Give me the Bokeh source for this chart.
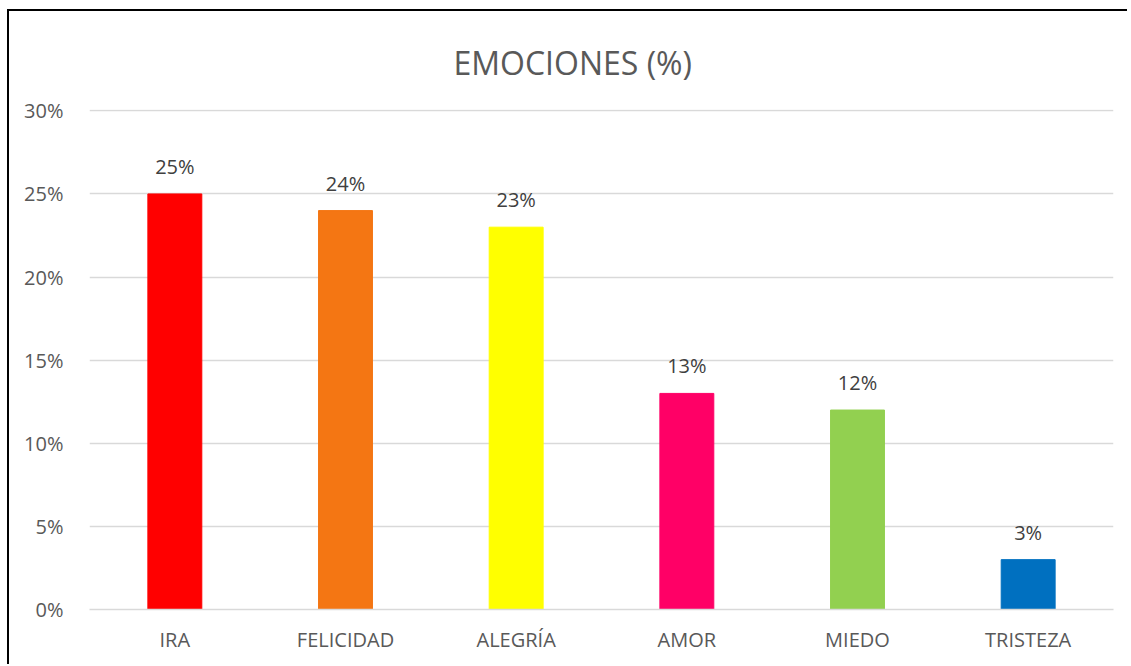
from bokeh.plotting import figure
from bokeh.models import ColumnDataSource, FixedTicker, NumeralTickFormatter, LabelSet, Range1d
from bokeh.core.properties import value
from bokeh.embed import file_html
from bokeh.resources import INLINE

categories = ["IRA", "FELICIDAD", "ALEGRÍA", "AMOR", "MIEDO", "TRISTEZA"]
values = [0.25, 0.24, 0.23, 0.13, 0.12, 0.03]
colors = ["#FF0000", "#F47613", "#FFFF00", "#FF0066", "#92D050", "#0070C0"]
y_ticks = [0, 0.05, 0.10, 0.15, 0.20, 0.25, 0.30]
title_text = "EMOCIONES (%)"

labels = [f"{round(v * 100)}%" for v in values]
src = ColumnDataSource(dict(cat=categories, val=values, col=colors, lab=labels))

FONT = "Open Sans"
GRAY = "#595959"

p = figure(x_range=categories, y_range=Range1d(0, 0.3008),
           width=1120, height=655, output_backend="svg", toolbar_location=None,
           min_border_left=80, min_border_right=16, min_border_top=98, min_border_bottom=57)
p.styles = {"box-shadow": "-2px -2px 0 0 black",
            "margin-left": "9px", "margin-top": "11px"}

p.vbar(x="cat", top="val", width=0.316, color="col", source=src)

p.add_layout(LabelSet(x="cat", y="val", text="lab", source=src, y_offset=14,
                      text_align="center", text_baseline="bottom",
                      text_font=value(FONT), text_font_size="20px", text_color="#404040"))

p.title.text = title_text
p.title.align = "left"
p.title.vertical_align = "top"
p.title.text_font = FONT
p.title.text_font_size = "32px"
p.title.text_font_style = "normal"
p.title.text_color = GRAY
p.title.offset = 364
p.title.standoff = 48

p.outline_line_color = None
p.xgrid.grid_line_color = None
p.ygrid.grid_line_color = "#D9D9D9"
p.ygrid.grid_line_width = 1.5
p.yaxis.ticker = FixedTicker(ticks=y_ticks)
p.ygrid.ticker = FixedTicker(ticks=y_ticks)
p.yaxis.formatter = NumeralTickFormatter(format="0%")

for ax in (p.xaxis[0], p.yaxis[0]):
    ax.major_tick_line_color = None
    ax.minor_tick_line_color = None
    ax.major_label_text_font = FONT
    ax.major_label_text_font_size = "20px"
    ax.major_label_text_color = GRAY
p.yaxis.axis_line_color = None
p.xaxis.axis_line_color = "#D9D9D9"
p.xaxis.axis_line_width = 1.5
p.yaxis.major_label_standoff = 20
p.xaxis.major_label_standoff = 10
p.x_range.range_padding = 0.0

open("out.html", "w").write(file_html(p, INLINE))
